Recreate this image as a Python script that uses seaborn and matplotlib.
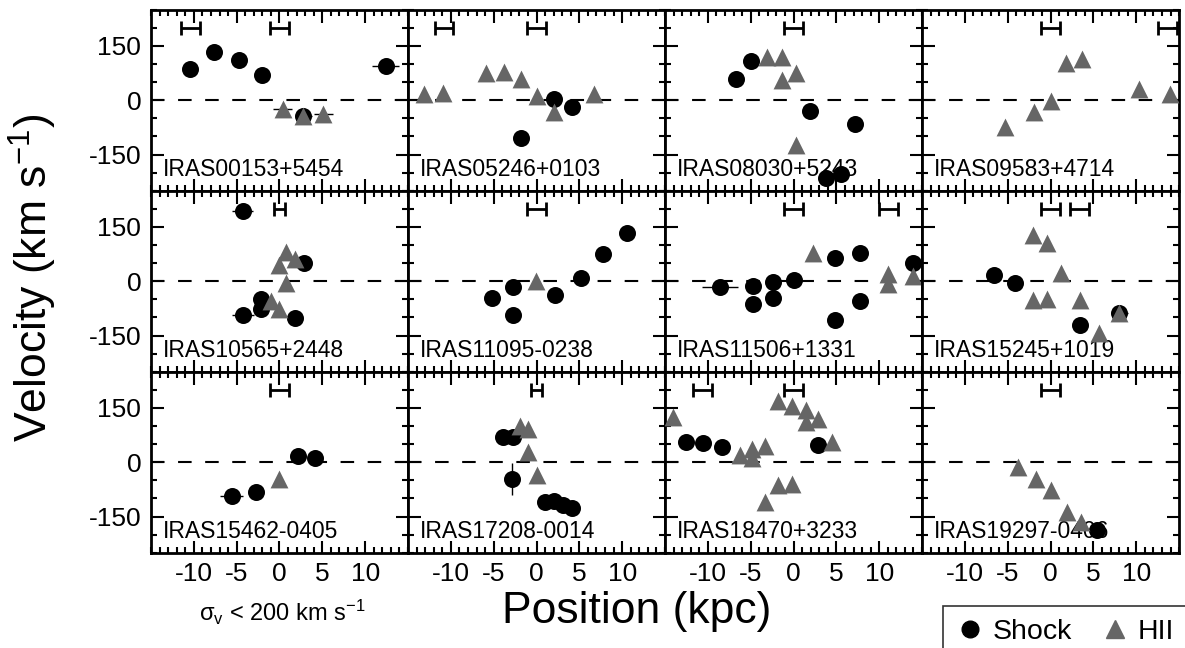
import numpy as np
import pandas as pd
import matplotlib
matplotlib.use("Agg")
import matplotlib.pyplot as plt
import seaborn as sns
from matplotlib.ticker import MultipleLocator
from matplotlib.lines import Line2D

# galaxy names, one per panel (row by row)
names = ["IRAS00153+5454", "IRAS05246+0103", "IRAS08030+5243", "IRAS09583+4714",
         "IRAS10565+2448", "IRAS11095-0238", "IRAS11506+1331", "IRAS15245+1019",
         "IRAS15462-0405", "IRAS17208-0014", "IRAS18470+3233", "IRAS19297-0406"]

# shock component: position (kpc) and velocity (km/s)
shock_pos = [[-10.4, -7.6, -4.7, -2.0, 2.8, 12.4],
             [2.0, 4.1, -1.8],
             [-6.7, -5.0, 1.9, 7.2, 3.8, 5.5],
             [],
             [-4.3, 2.9, -2.2, -2.2, -4.3, 1.8],
             [-5.2, -2.7, -2.7, 2.2, 5.2, 7.8, 10.6],
             [-8.6, -4.7, -4.7, -2.4, -2.4, 0.0, 4.8, 4.8, 7.8, 7.8, 13.9],
             [-6.6, -4.2, 3.4, 8.0],
             [-5.6, -2.7, 2.2, 4.2],
             [-3.9, -2.8, -2.9, 1.0, 2.0, 3.1, 4.1],
             [-12.5, -10.6, -8.4, 2.9],
             [5.4]]
shock_vel = [[86, 133, 110, 71, -43, 94],
             [3, -18, -104],
             [58, 108, -30, -67, -214, -205],
             [],
             [193, 51, -50, -77, -92, -101],
             [-45, -17, -94, -37, 9, 75, 134],
             [-16, -14, -62, -2, -46, 3, 63, -106, 77, -54, 51],
             [18, -5, -122, -88],
             [-92, -83, 16, 11],
             [69, 69, -46, -110, -106, -118, -127],
             [57, 53, 43, 48],
             [-187]]

# HII component
hii_pos = [[0.4, 2.8, 5.1],
           [-13.1, -10.9, -5.9, -3.8, -1.8, 0.1, 2.0, 6.7],
           [-3.1, -1.4, -1.4, 0.3, 0.3],
           [-5.3, -1.9, 0.1, 1.8, 3.7, 10.3, 13.9],
           [0.8, 1.8, 0.0, 0.8, -1.0, -0.1],
           [-0.1],
           [2.3, 11.0, 11.0, 13.9],
           [-2.0, -0.4, 1.2, -2.0, -0.4, 3.4, 5.6, 8.0],
           [-0.1],
           [-1.9, -1.0, -1.0, 0.0],
           [-14.1, -6.3, -4.8, -4.8, -3.3, -1.8, -0.2, 1.4, 1.4, 2.9, 4.5, -1.8, -0.2, -3.3],
           [-3.8, -1.7, 0.1, 1.9, 3.6]]
hii_vel = [[-23, -43, -37],
           [18, 21, 74, 78, 58, 12, -32, 18],
           [120, 120, 55, 74, -124],
           [-74, -32, -3, 104, 113, 30, 16],
           [81, 61, 44, -4, -55, -77],
           [2],
           [77, 21, -9, 15],
           [127, 106, 24, -52, -50, -52, -143, -88],
           [-46],
           [101, 92, 28, -35],
           [126, 20, 37, 11, 46, 168, 155, 145, 110, 120, 55, -64, -60, -109],
           [-14, -46, -76, -138, -166]]

# spatial resolution bars (centre, half width)
res_pos = [[-10.4, 0], [-10.8, 0], [0], [0, 13.6], [0], [0],
           [0, 11.1], [0, 3.4], [0], [0], [-10.6, 0], [0]]
res_half = [1.1, 1.1, 1.1, 1.1, 0.6, 1.1, 1.1, 1.1, 1.1, 0.6, 1.1, 1.1]

# individual error bars: panel, x, v, dx, dv
err_panel = [0, 0, 0, 0, 4, 4, 6, 8, 9, 7]
err_x = [12.4, 0.4, 2.8, 5.1, -4.3, -4.3, -8.6, -5.6, -2.9, 8.0]
err_v = [94, -23, -43, -37, 193, -92, -16, -92, -46, -88]
err_dx = [1.6, 1.1, 1.0, 1.1, 1.2, 1.3, 2.1, 1.3, 0.0, 1.0]
err_dv = [0, 0, 0, 0, 15, 0, 0, 0, 45, 0]

rows = []
for i in range(12):
    for x, v in zip(shock_pos[i], shock_vel[i]):
        rows.append((i, x, v, "Shock"))
    for x, v in zip(hii_pos[i], hii_vel[i]):
        rows.append((i, x, v, "HII"))
df = pd.DataFrame(rows, columns=["panel", "pos", "vel", "kind"])

sns.set_style("ticks")
plt.rcParams['font.family'] = ['Liberation Sans', 'DejaVu Sans']
plt.rcParams['mathtext.fontset'] = 'custom'
plt.rcParams['mathtext.rm'] = 'Liberation Sans'
plt.rcParams['mathtext.it'] = 'Liberation Sans:italic'
plt.rcParams['axes.unicode_minus'] = False
for key in ['text.color', 'axes.edgecolor', 'xtick.color', 'ytick.color', 'axes.labelcolor']:
    plt.rcParams[key] = 'black'

gray = "#666666"

fig, axes = plt.subplots(3, 4, figsize=(11.85, 6.48), dpi=100, sharex=True, sharey=True)
fig.subplots_adjust(left=0.1274, right=0.995, top=0.985, bottom=0.147, wspace=0, hspace=0)

for i, ax in enumerate(axes.flat):
    ax.axhline(0, color="black", lw=1.5, dashes=(6.5, 6.5), zorder=1)
    for j in range(len(err_panel)):
        if err_panel[j] == i:
            ax.errorbar(err_x[j], err_v[j], xerr=err_dx[j] or None, yerr=err_dv[j] or None,
                        fmt="none", ecolor="black", elinewidth=1, zorder=2)
    for r in res_pos[i]:
        ax.errorbar(r, 200, xerr=res_half[i], fmt="none", ecolor="black",
                    elinewidth=2, capsize=5, capthick=2, zorder=2)
    sub = df[df.panel == i]
    sns.scatterplot(data=sub[sub.kind == "Shock"], x="pos", y="vel", color="black",
                    marker="o", s=150, linewidth=0, legend=False, ax=ax, zorder=3)
    sns.scatterplot(data=sub[sub.kind == "HII"], x="pos", y="vel", color=gray,
                    marker="^", s=165, linewidth=0, legend=False, ax=ax, zorder=4)
    ax.text(0.047, 0.083, names[i], transform=ax.transAxes, fontsize=16.5, zorder=1.5)
    ax.set_xlim(-15, 15)
    ax.set_ylim(-250, 250)
    ax.set_xlabel("")
    ax.set_ylabel("")
    ax.xaxis.set_major_locator(MultipleLocator(5))
    ax.xaxis.set_minor_locator(MultipleLocator(1))
    ax.yaxis.set_major_locator(MultipleLocator(150))
    ax.yaxis.set_minor_locator(MultipleLocator(50))
    ax.tick_params(which="both", direction="in", top=True, right=True, width=1.5,
                   labelsize=19)
    ax.tick_params(which="major", length=9, pad=7)
    ax.tick_params(which="minor", length=4.5)
    for sp in ax.spines.values():
        sp.set_linewidth(2)
    ax.set_xticks([-10, -5, 0, 5, 10])

fig.text(0.028, 1 - 278 / 648, "Velocity (km s$^{-1}$)", rotation=90, ha="center",
         va="center", fontsize=32)
fig.text(637 / 1185, 1 - 612 / 648, "Position (kpc)", ha="center", va="center", fontsize=32)
fig.text(282 / 1185, 1 - 612 / 648, "σ$_\\mathrm{v}$ < 200 km s$^{-1}$", ha="center",
         va="center", fontsize=17)

handles = [Line2D([], [], marker="o", color="black", ls="none", markersize=12),
           Line2D([], [], marker="^", color=gray, ls="none", markersize=13)]
fig.legend(handles, ["Shock", "HII"], ncol=2, loc="upper left",
           bbox_to_anchor=(943 / 1185, 1 - 606 / 648), fontsize=20.5, frameon=True,
           fancybox=False, edgecolor="black", handletextpad=0.3, columnspacing=1.0,
           borderpad=0.45, handlelength=1.0, borderaxespad=0)
fig.legends[0].get_frame().set_linewidth(1.2)

fig.savefig("out.png", dpi=100)
